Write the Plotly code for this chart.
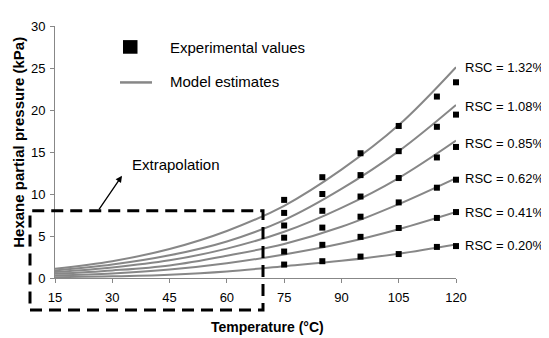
import plotly.graph_objects as go

# ---------------- data ----------------
series_names = ["RSC = 1.32%", "RSC = 1.08%", "RSC = 0.85%", "RSC = 0.62%", "RSC = 0.41%", "RSC = 0.20%"]

exp_temps = [75, 85, 95, 105, 115, 120]
exp_132 = [9.3, 12.0, 14.85, 18.1, 21.6, 23.3]
exp_108 = [7.75, 10.0, 12.25, 15.1, 18.0, 19.45]
exp_085 = [6.25, 8.0, 9.7, 11.9, 14.35, 15.6]
exp_062 = [4.8, 6.0, 7.3, 9.0, 10.75, 11.7]
exp_041 = [3.15, 3.95, 4.9, 5.95, 7.15, 7.85]
exp_020 = [1.6, 2.0, 2.55, 2.85, 3.7, 3.8]

model_temps = [15, 30, 45, 60, 75, 90, 105, 120]
mod_132 = [1.1, 2.0, 3.45, 5.6, 8.6, 12.9, 18.2, 25.1]
mod_108 = [0.9, 1.6, 2.7, 4.35, 6.9, 10.6, 15.1, 20.6]
mod_085 = [0.7, 1.25, 2.1, 3.5, 5.5, 8.35, 11.9, 16.35]
mod_062 = [0.5, 0.9, 1.5, 2.65, 4.05, 6.1, 8.8, 11.9]
mod_041 = [0.3, 0.55, 1.0, 1.75, 2.8, 4.1, 5.8, 7.85]
mod_020 = [0.1, 0.2, 0.4, 0.78, 1.4, 2.05, 2.9, 4.0]

x_ticks = [15, 30, 45, 60, 75, 90, 105, 120]
y_ticks = [0, 5, 10, 15, 20, 25, 30]

exp_all = [exp_132, exp_108, exp_085, exp_062, exp_041, exp_020]
mod_all = [mod_132, mod_108, mod_085, mod_062, mod_041, mod_020]

# ---------------- layout geometry ----------------
# page body has an 8px margin, so the figure is 8px smaller and offset
OFF = 8
W, H = 549 - OFF, 338 - OFF
PLOT_L, PLOT_R, PLOT_T, PLOT_B = 55, 456, 19, 278   # in window pixels
ML, MT = PLOT_L - OFF, PLOT_T - OFF
MR, MB = 549 - PLOT_R, 338 - PLOT_B
PW, PH = PLOT_R - PLOT_L, PLOT_B - PLOT_T
FONT = "Liberation Sans, Arial, sans-serif"
LINE_COL = "#878787"


def px(x):
    return (x - PLOT_L) / PW


def py(y):
    return (PLOT_B - y) / PH


fig = go.Figure()

for vals in mod_all:
    fig.add_trace(go.Scatter(x=model_temps, y=vals, mode="lines", line_shape="spline",
                             line=dict(color=LINE_COL, width=2), showlegend=False,
                             hoverinfo="skip"))
for vals in exp_all:
    fig.add_trace(go.Scatter(x=exp_temps, y=vals, mode="markers", cliponaxis=False,
                             marker=dict(symbol="square", size=6, color="black"),
                             showlegend=False))

annotations = []
yshifts = [0, -2, -3, 0, 0, -1]
for name, vals, ys in zip(series_names, mod_all, yshifts):
    annotations.append(dict(x=120, y=vals[-1], xref="x", yref="y", text=name,
                            showarrow=False, xanchor="left", yanchor="middle",
                            xshift=7, yshift=ys,
                            font=dict(family=FONT, size=13, color="black")))

# legend (drawn manually)
annotations.append(dict(x=px(168), y=py(41), xref="paper", yref="paper",
                        text="Experimental values", showarrow=False, xanchor="left",
                        yanchor="middle", font=dict(family=FONT, size=15, color="black")))
annotations.append(dict(x=px(168), y=py(76), xref="paper", yref="paper",
                        text="Model estimates", showarrow=False, xanchor="left",
                        yanchor="middle", font=dict(family=FONT, size=15, color="black")))

# extrapolation label + arrow
annotations.append(dict(x=px(176), y=py(161), xref="paper", yref="paper",
                        text="Extrapolation", showarrow=False, xanchor="center",
                        yanchor="middle", font=dict(family=FONT, size=15, color="black")))
annotations.append(dict(x=px(122), y=py(173), xref="paper", yref="paper", text="",
                        showarrow=True, ax=-24, ay=35, arrowhead=2, arrowsize=1,
                        arrowwidth=1.3, arrowcolor="black"))

# axis titles
annotations.append(dict(x=px(19), y=py(139), xref="paper", yref="paper",
                        text="<b>Hexane partial pressure (kPa)</b>", textangle=-90,
                        showarrow=False, xanchor="center", yanchor="middle",
                        font=dict(family=FONT, size=15, color="black")))
annotations.append(dict(x=px(267), y=py(328), xref="paper", yref="paper",
                        text="<b>Temperature (°C)</b>", showarrow=False,
                        xanchor="center", yanchor="middle",
                        font=dict(family=FONT, size=14, color="black")))

shapes = [
    dict(type="rect", xref="paper", yref="paper", x0=px(123), x1=px(137.5),
         y0=py(33.5), y1=py(47.5), fillcolor="black", line=dict(width=0)),
    dict(type="line", xref="paper", yref="paper", x0=px(120), x1=px(152),
         y0=py(77), y1=py(77), line=dict(color=LINE_COL, width=2.5)),
    dict(type="rect", xref="paper", yref="paper", x0=px(30), x1=px(263),
         y0=py(311), y1=py(209), line=dict(color="black", width=3, dash="12px,7px"),
         fillcolor="rgba(0,0,0,0)"),
]

axis_common = dict(showline=True, linecolor=LINE_COL, linewidth=1, ticks="outside",
                   ticklen=4, tickcolor=LINE_COL, showgrid=False, zeroline=False,
                   tickfont=dict(family=FONT, size=13, color="black"))

fig.update_layout(
    width=W, height=H,
    margin=dict(l=ML, r=MR, t=MT, b=MB, pad=0),
    paper_bgcolor="white", plot_bgcolor="white",
    xaxis=dict(range=[15, 120], tickvals=x_ticks, ticklabelstandoff=3, **axis_common),
    yaxis=dict(range=[0, 30], tickvals=y_ticks, ticklabelstandoff=2, **axis_common),
    annotations=annotations,
    shapes=shapes,
    showlegend=False,
)

fig.write_html("out.html")
